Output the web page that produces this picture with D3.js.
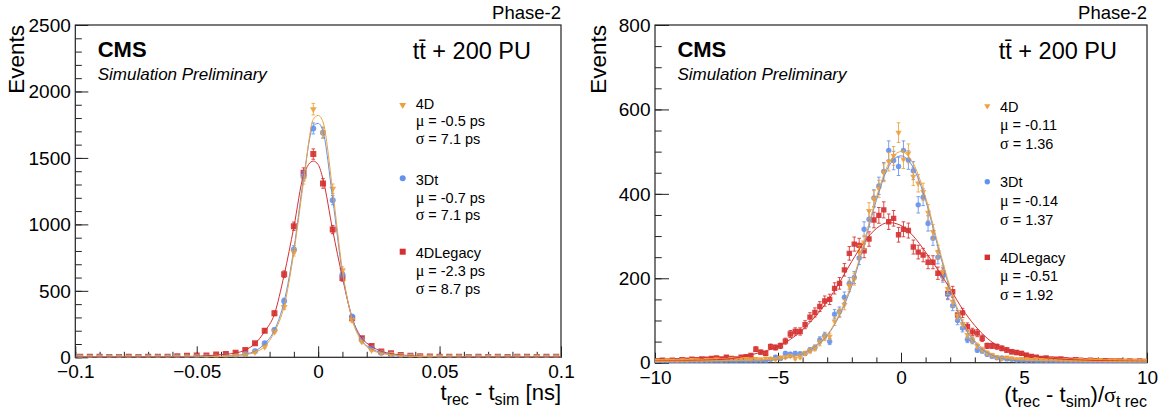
<!DOCTYPE html>
<html><head><meta charset="utf-8">
<script src="https://cdn.jsdelivr.net/npm/d3@7"></script>
<style>
html,body{margin:0;padding:0;background:#fff;}
svg{display:block;font-family:"Liberation Sans",Arial,Helvetica,sans-serif;}
</style></head><body>
<svg id="c" width="1167" height="416"></svg>
<script>
// ---------------- DATA ----------------
const seriesNames = ["4D", "3Dt", "4DLegacy"];

// Left panel: t_rec - t_sim [ns], 50 bins from -0.1 to 0.1
const leftBinRange = [-0.1, 0.1];
const left4D = [3,2,3,2,2,3,2,3,2,3, 3,4,4,5,6,9,14,22,40,80, 193,379,790,1340,1867,1690,1268,655,281,118, 55,35,25,14,9,6,5,4,4,5, 4,3,4,4,3,4,3,4,3,4];
const left3Dt = [2,1,2,2,3,1,2,2,3,2, 3,3,4,4,5,7,12,25,45,105, 206,424,811,1363,1722,1690,1182,622,306,130, 68,35,22,12,8,5,3,3,2,3, 2,2,3,2,1,2,2,1,2,2];
const left4DLegacy = [4,5,4,3,3,4,3,5,4,4, 8,12,13,14,22,25,35,55,105,200, 331,625,986,1388,1529,1308,961,597,293,143, 85,43,30,18,12,8,6,4,5,4, 3,4,3,4,3,5,4,3,4,4];
// fit curves
const leftFitX = [-0.1,-0.06,-0.05,-0.042,-0.038,-0.034,-0.03,-0.026,-0.022,-0.018,-0.014,-0.01,-0.006,-0.002,0,0.002,0.006,0.01,0.014,0.018,0.022,0.026,0.03,0.034,0.038,0.042,0.05,0.06,0.1];
const leftFit4D = [0,1,2,5,8,12,20,38,82,190,385,790,1320,1790,1820,1770,1250,655,285,120,55,30,18,12,8,5,3,1,0];
const leftFit3Dt = [0,1,3,6,9,14,24,47,102,205,420,815,1350,1740,1760,1700,1190,630,300,128,65,35,22,13,8,5,3,1,0];
const leftFit4DLegacy = [3,5,8,17,23,32,55,103,195,325,620,980,1370,1476,1450,1340,955,600,295,145,82,45,28,18,12,8,5,4,3];
const leftYTicks = [0, 500, 1000, 1500, 2000, 2500];
const leftYLabels = ["0", "500", "1000", "1500", "2000", "2500"];
const leftXTicks = [-0.1, -0.05, 0, 0.05, 0.1];
const leftXLabels = ["\u22120.1", "\u22120.05", "0", "0.05", "0.1"];
const leftMu = ["\u03bc = -0.5 ps", "\u03bc = -0.7 ps", "\u03bc = -2.3 ps"];
const leftSigma = ["\u03c3 = 7.1 ps", "\u03c3 = 7.1 ps", "\u03c3 = 8.7 ps"];

// Right panel: (t_rec - t_sim)/sigma, 100 bins from -10 to 10
const rightBinRange = [-10, 10];
const right4D = [5,4,6,5,4,6,5,7,6,5, 7,6,8,6,7,9,8,10,9,8, 9,8,10,9,8,12,13,16,10,13, 22,28,34,47,60,62,98,118,137,182, 198,262,285,360,388,412,450,476,490,545, 482,496,441,425,405,356,310,262,215,175, 145,112,92,66,55,40,31,23,18,13, 10,12,10,8,9,8,7,9,7,6, 8,7,6,7,5,6,7,5,6,5, 6,4,5,6,4,5,4,5,4,5];
const right3Dt = [2,3,2,1,3,2,2,3,2,3, 2,3,3,2,4,3,3,4,3,4, 3,5,4,8,13,10,22,20,22,21, 22,30,36,54,64,50,115,121,155,188, 202,248,316,340,390,419,453,503,479,465, 503,480,455,374,392,330,295,250,205,162, 135,100,82,55,52,30,28,20,15,12, 11,9,8,6,5,4,5,3,4,3, 3,2,3,2,3,2,2,3,2,2, 1,2,2,1,2,2,1,2,3,2];
const right4DLegacy = [5,6,5,6,5,7,6,8,7,9, 8,10,11,9,13,10,9,13,14,17, 32,25,22,38,36,40,51,68,74,74, 90,108,119,133,146,150,176,188,220,259, 281,278,265,293,338,349,362,334,342,303, 316,313,274,262,255,238,238,212,210,164, 168,113,118,85,73,70,58,40,40,38, 34,30,26,24,22,18,15,13,10,11, 9,8,9,7,6,7,6,5,6,5, 4,5,4,5,4,3,4,3,4,3];
const rightFitX = [-10,-8,-7,-6,-5.5,-5,-4.5,-4,-3.5,-3,-2.5,-2,-1.5,-1,-0.5,0,0.5,1,1.5,2,2.5,3,3.5,4,4.5,5,6,7,8,10];
const rightFit4D = [3,4,5,6,7,9,13,23,40,66,115,188,285,392,472,500,472,392,282,178,100,52,27,14,9,7,5,4,3,2];
const rightFit3Dt = [1,2,3,4,5,8,13,22,38,64,112,182,280,385,465,490,462,385,275,172,95,48,24,12,6,3,2,1,1,1];
const rightFit4DLegacy = [4,6,9,20,28,38,55,78,108,145,190,240,285,318,332,325,300,262,220,175,127,88,58,38,27,19,11,7,5,3];
const rightYTicks = [0, 200, 400, 600, 800];
const rightYLabels = ["0", "200", "400", "600", "800"];
const rightXTicks = [-10, -5, 0, 5, 10];
const rightXLabels = ["\u221210", "\u22125", "0", "5", "10"];
const rightMu = ["\u03bc = -0.11", "\u03bc = -0.14", "\u03bc = -0.51"];
const rightSigma = ["\u03c3 = 1.36", "\u03c3 = 1.37", "\u03c3 = 1.92"];

// ---------------- STYLE ----------------
const colors = {"4D": "#eea13b", "3Dt": "#6392ee", "4DLegacy": "#d5302f"};
const shapes = {"4D": "tri", "3Dt": "circle", "4DLegacy": "square"};

const svg = d3.select("#c");

function marker(sel, shape, size, color) {
  let type = d3.symbolSquare, area = size * size;
  if (shape === "circle") { type = d3.symbolCircle; area = Math.PI * (size / 2) * (size / 2); }
  if (shape === "tri") { type = d3.symbolTriangle; area = Math.sqrt(3) / 4 * (size * 1.15) * (size * 1.15); }
  sel.append("path")
    .attr("d", d3.symbol().type(type).size(area)())
    .attr("fill", color);
}

function panel(o) {
  const g = svg.append("g");
  const x = d3.scaleLinear().domain(o.xDomain).range([o.left, o.right]);
  const y = d3.scaleLinear().domain(o.yDomain).range([o.bottom, o.top]);

  // minor ticks
  const yMinorAx = d3.axisLeft(y).tickValues(o.yMinor).tickSize(-o.yMinLen).tickFormat("");
  const xMinorAx = d3.axisBottom(x).tickValues(o.xMinor).tickSize(-o.xMinLen).tickFormat("");
  g.append("g").attr("transform", `translate(${o.left},0)`).call(yMinorAx).call(s => s.select(".domain").remove());
  g.append("g").attr("transform", `translate(0,${o.bottom})`).call(xMinorAx).call(s => s.select(".domain").remove());

  // major ticks + labels
  const yAx = d3.axisLeft(y).tickValues(o.yTicks).tickSize(-o.yMajLen).tickPadding(4.5)
    .tickFormat((d, i) => o.yLabels[i]);
  const xAx = d3.axisBottom(x).tickValues(o.xTicks).tickSize(-o.xMajLen).tickPadding(4)
    .tickFormat((d, i) => o.xLabels[i]);
  const ya = g.append("g").attr("transform", `translate(${o.left},0)`).call(yAx)
    .attr("font-family", null).attr("font-size", null);
  ya.select(".domain").remove();
  ya.selectAll("text").attr("font-size", 19).attr("fill", "#000").attr("dy", "0.33em");
  const xa = g.append("g").attr("transform", `translate(0,${o.bottom})`).call(xAx)
    .attr("font-family", null).attr("font-size", null);
  xa.select(".domain").remove();
  xa.selectAll("text").attr("font-size", 19).attr("fill", "#000").attr("y", 21).attr("dy", 0);
  g.selectAll(".tick line").attr("stroke", "#222").attr("stroke-width", 1);

  // frame
  g.append("rect").attr("x", o.left).attr("y", o.top)
    .attr("width", o.right - o.left).attr("height", o.bottom - o.top)
    .attr("fill", "none").attr("stroke", "#222").attr("stroke-width", 1.2);

  const n = o.series[0].values.length;
  const w = (o.binRange[1] - o.binRange[0]) / n;
  const centers = d3.range(n).map(i => o.binRange[0] + (i + 0.5) * w);

  const clip = "clip" + o.id;
  svg.append("clipPath").attr("id", clip).append("rect")
    .attr("x", o.left).attr("y", o.top).attr("width", o.right - o.left).attr("height", o.bottom - o.top);
  const plot = g.append("g").attr("clip-path", `url(#${clip})`);

  // data points with error bars
  o.series.forEach(s => {
    const col = colors[s.name];
    const sg = plot.append("g");
    const pts = s.values.map((v, i) => ({x: centers[i], v: v, e: Math.sqrt(v)}));
    sg.selectAll("line.eb").data(pts).join("line").attr("class", "eb")
      .attr("x1", d => x(d.x)).attr("x2", d => x(d.x))
      .attr("y1", d => y(d.v - d.e)).attr("y2", d => y(d.v + d.e))
      .attr("stroke", col).attr("stroke-width", 1).attr("opacity", 0.85);
    ["lo", "hi"].forEach(k => {
      sg.selectAll("line.cap" + k).data(pts.filter(d => d.e > 0)).join("line").attr("class", "cap" + k)
        .attr("x1", d => x(d.x) - 1.8).attr("x2", d => x(d.x) + 1.8)
        .attr("y1", d => y(k === "lo" ? d.v - d.e : d.v + d.e)).attr("y2", d => y(k === "lo" ? d.v - d.e : d.v + d.e))
        .attr("stroke", col).attr("stroke-width", 1).attr("opacity", 0.85);
    });
    const shape = shapes[s.name];
    sg.selectAll("g.m").data(pts).join("g").attr("class", "m")
      .attr("transform", d => `translate(${x(d.x)},${y(d.v)})${shape === "tri" ? " rotate(180)" : ""}`)
      .each(function () { marker(d3.select(this), shape, o.msize, col); })
      .attr("opacity", 0.9);
  });

  // fit curves
  o.fits.forEach(f => {
    const line = d3.line().x((d, i) => x(o.fitX[i])).y(d => y(d)).curve(d3.curveMonotoneX);
    plot.append("path").attr("d", line(f.values)).attr("fill", "none")
      .attr("stroke", colors[f.name]).attr("stroke-width", 1);
  });

  // texts
  g.append("text").attr("x", o.right).attr("y", 18.5).attr("text-anchor", "end")
    .attr("font-size", 18.5).text("Phase-2");
  g.append("text").attr("x", o.left + 22.4).attr("y", 56.5).attr("font-size", 22).attr("font-weight", "bold").text("CMS");
  g.append("text").attr("x", o.left + 22.4).attr("y", 79.5).attr("font-size", 17).attr("font-style", "italic").text("Simulation Preliminary");
  g.append("text").attr("x", o.right - 30).attr("y", 59).attr("text-anchor", "end").attr("font-size", 23.5)
    .text("tt\u0304 + 200 PU");

  g.append("text").attr("transform", `translate(${o.ylabX},${o.top}) rotate(-90)`)
    .attr("text-anchor", "end").attr("font-size", 22.5).text("Events");

  // x title
  const xt = g.append("text").attr("x", o.right).attr("y", o.xtitleY).attr("text-anchor", "end").attr("font-size", 22);
  o.xtitle.forEach(p => {
    const ts = xt.append("tspan").text(p.t);
    if (p.sub) ts.attr("font-size", 16).attr("dy", 5);
    else if (p.after) ts.attr("dy", -5);
    if (p.serif) ts.attr("font-family", "Liberation Serif");
  });

  // legend
  o.series.forEach((s, i) => {
    const lg = g.append("g");
    const mg = lg.append("g").attr("transform", `translate(${o.legMX},${o.legMY[i]})${shapes[s.name] === "tri" ? " rotate(180)" : ""}`);
    marker(mg, shapes[s.name], o.msize, colors[s.name]);
    lg.append("text").attr("x", o.legTX).attr("y", o.legY[i]).attr("font-size", 14.5).text(s.name);
    [o.mu[i], o.sigma[i]].forEach((t, j) => {
      const tx = lg.append("text").attr("x", o.legTX).attr("y", o.legY[i] + (j + 1) * o.legStep).attr("font-size", 14.5);
      tx.append("tspan").attr("font-family", "Liberation Serif").attr("font-size", 16).text(t[0]);
      tx.append("tspan").text(t.slice(1));
    });
  });
}

panel({
  id: "L", left: 75.3, right: 561, top: 25, bottom: 357.3,
  xDomain: [-0.1, 0.1], yDomain: [0, 2500], binRange: leftBinRange,
  xTicks: leftXTicks, xLabels: leftXLabels, yTicks: leftYTicks, yLabels: leftYLabels,
  xMinor: d3.range(-0.1, 0.1001, 0.01), yMinor: d3.range(0, 2501, 100),
  yMajLen: 13, yMinLen: 6.5, xMajLen: 11, xMinLen: 5.5, msize: 6,
  series: [
    {name: "4DLegacy", values: left4DLegacy},
    {name: "3Dt", values: left3Dt},
    {name: "4D", values: left4D}
  ],
  fitX: leftFitX,
  fits: [{name: "4DLegacy", values: leftFit4DLegacy}, {name: "3Dt", values: leftFit3Dt}, {name: "4D", values: leftFit4D}],
  ylabX: 23.5, xtitleY: 400,
  xtitle: [{t: "t"}, {t: "rec", sub: true}, {t: " - t", after: true}, {t: "sim", sub: true}, {t: " [ns]", after: true}],
  legMX: 402.7, legMY: [251.7, 178.3, 105], legTX: 415.7, legY: [258.3, 185, 108.5], legStep: 17.6,
  mu: [leftMu[2], leftMu[1], leftMu[0]], sigma: [leftSigma[2], leftSigma[1], leftSigma[0]]
});

panel({
  id: "R", left: 655, right: 1147, top: 25, bottom: 362.7,
  xDomain: [-10, 10], yDomain: [0, 800], binRange: rightBinRange,
  xTicks: rightXTicks, xLabels: rightXLabels, yTicks: rightYTicks, yLabels: rightYLabels,
  xMinor: d3.range(-10, 10.001, 1), yMinor: d3.range(0, 801, 50),
  yMajLen: 14, yMinLen: 6.7, xMajLen: 10, xMinLen: 5.3, msize: 5.4,
  series: [
    {name: "4DLegacy", values: right4DLegacy},
    {name: "3Dt", values: right3Dt},
    {name: "4D", values: right4D}
  ],
  fitX: rightFitX,
  fits: [{name: "4DLegacy", values: rightFit4DLegacy}, {name: "3Dt", values: rightFit3Dt}, {name: "4D", values: rightFit4D}],
  ylabX: 605.5, xtitleY: 402,
  xtitle: [{t: "(t"}, {t: "rec", sub: true}, {t: " - t", after: true}, {t: "sim", sub: true}, {t: ")/", after: true}, {t: "\u03c3", serif: true}, {t: "t rec", sub: true}],
  legMX: 987.3, legMY: [257.3, 181.7, 106], legTX: 1000, legY: [262.7, 187.3, 111.5], legStep: 18.7,
  mu: [rightMu[2], rightMu[1], rightMu[0]], sigma: [rightSigma[2], rightSigma[1], rightSigma[0]]
});
</script>
</body></html>
